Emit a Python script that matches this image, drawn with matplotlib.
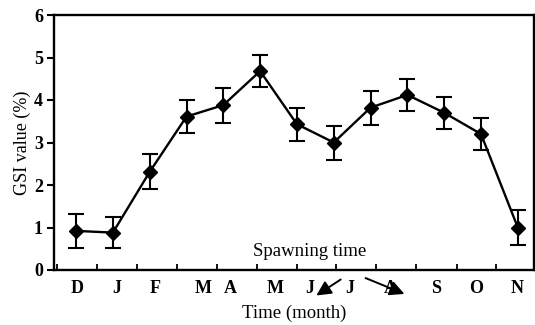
import matplotlib
matplotlib.use("Agg")
import matplotlib.pyplot as plt

plt.rcParams['font.family'] = ['Liberation Serif', 'DejaVu Serif']

# data
gsi = [0.92, 0.88, 2.31, 3.61, 3.88, 4.68, 3.43, 3.00, 3.82, 4.12, 3.70, 3.20, 1.00]
err = [0.40, 0.37, 0.41, 0.38, 0.41, 0.38, 0.39, 0.40, 0.40, 0.38, 0.38, 0.38, 0.41]
month_labels = ['D', 'J', 'F', 'M', 'A', 'M', 'J', 'J', 'A', 'S', 'O', 'N']
label_pos = [0.03, 1.11, 2.14, 3.45, 4.18, 5.40, 6.35, 7.44, 8.53, 9.77, 10.88, 11.97]
tick_pos = [-0.52, 0.57, 1.66, 2.74, 3.83, 4.91, 6.0, 7.06, 8.15, 9.23, 10.34, 11.4]
yticks = [0, 1, 2, 3, 4, 5, 6]

x = list(range(len(gsi)))

fig = plt.figure(figsize=(5.35, 3.25), dpi=100)
ax = fig.add_axes([54/535, 1-270/325, (534-54)/535, (270-15)/325])

ax.errorbar(x, gsi, yerr=err, color='black', lw=1.7, marker='D', ms=7.5,
            capsize=5.5, capthick=1.5, elinewidth=1.5)

ax.set_xlim(-0.6, 12.44)
ax.set_ylim(0, 6)
ax.set_yticks(yticks)
ax.set_yticklabels([str(v) for v in yticks], fontsize=13, fontweight='bold')
ax.tick_params(axis='y', direction='out', length=5, width=1.5, pad=3)

ax.set_xticks(tick_pos)
ax.set_xticklabels([])
ax.tick_params(axis='x', direction='in', length=4, width=1.3)
ax.set_xticks(label_pos, minor=True)
ax.set_xticklabels(month_labels, minor=True, fontsize=13, fontweight='bold')
ax.tick_params(axis='x', which='minor', length=0, pad=7)

for s in ax.spines.values():
    s.set_linewidth(1.7)

ax.set_ylabel('GSI value (%)', fontsize=13, labelpad=2)
ax.set_xlabel('Time (month)', fontsize=13.5, labelpad=6)

ax.text(310/535, 1-252/325, 'Spawning time', transform=fig.transFigure,
        ha='center', va='center', fontsize=13.5)

ax.annotate('', xy=(314/535, 1-297/325), xytext=(343/535, 1-278/325),
            xycoords='figure fraction', textcoords='figure fraction',
            arrowprops=dict(arrowstyle='-|>', color='black', lw=1.4,
                            mutation_scale=22), annotation_clip=False)
ax.annotate('', xy=(407/535, 1-295/325), xytext=(363/535, 1-277/325),
            xycoords='figure fraction', textcoords='figure fraction',
            arrowprops=dict(arrowstyle='-|>', color='black', lw=1.4,
                            mutation_scale=22), annotation_clip=False)

fig.savefig('out.png', dpi=100)
